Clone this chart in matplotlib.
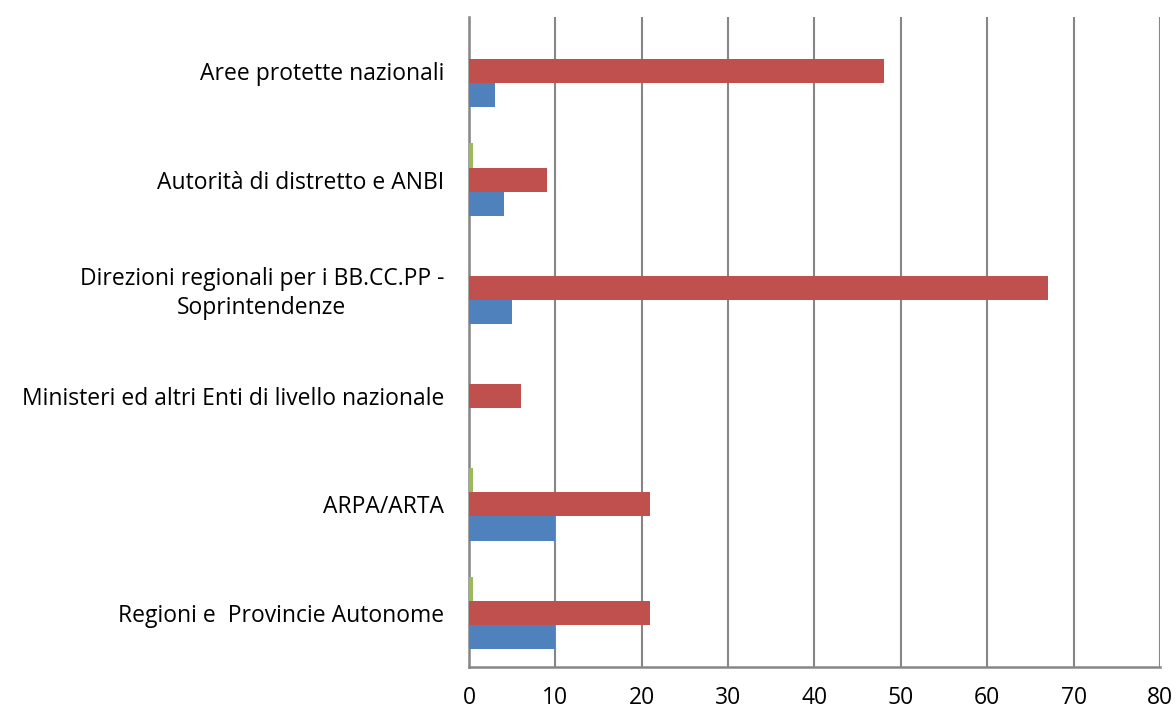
import numpy as np
import matplotlib.pyplot as plt

categories = [
    "Regioni e  Provincie Autonome",
    "ARPA/ARTA",
    "Ministeri ed altri Enti di livello nazionale",
    "Direzioni regionali per i BB.CC.PP -\nSoprintendenze",
    "Autorità di distretto e ANBI",
    "Aree protette nazionali",
]
blue_vals = [10, 10, 0, 5, 4, 3]
red_vals = [21, 21, 6, 67, 9, 48]
green_vals = [0.5, 0.5, 0, 0, 0.5, 0]

plt.rcParams['font.family'] = ['Open Sans', 'DejaVu Sans']

fig = plt.figure(figsize=(11.76, 7.11), dpi=100)
ax = fig.add_axes([0.3988, 0.062, 0.5876, 0.914])

y = np.arange(len(categories))
h = 0.222
ax.barh(y - h, blue_vals, height=h, color="#4F81BD", zorder=3)
ax.barh(y, red_vals, height=h, color="#C0504D", zorder=3)
ax.barh(y + h, green_vals, height=h, color="#9BBB59", zorder=3)

ax.set_xlim(0, 80)
ax.set_ylim(-0.5, len(categories) - 0.5)
ax.set_xticks(range(0, 81, 10))
ax.set_yticks(y)
ax.set_yticklabels(categories, fontsize=16.5, ha="right", multialignment="center",
                   linespacing=1.3)
ax.tick_params(axis="y", length=0, pad=18)
ax.tick_params(axis="x", length=0, pad=14, labelsize=16.5)

ax.grid(axis="x", color="#868686", linewidth=1.5, zorder=0)
for s in ["top", "right"]:
    ax.spines[s].set_visible(False)
for s in ["left", "bottom"]:
    ax.spines[s].set_color("#868686")
    ax.spines[s].set_linewidth(1.8)

fig.savefig("out.png", dpi=100)
